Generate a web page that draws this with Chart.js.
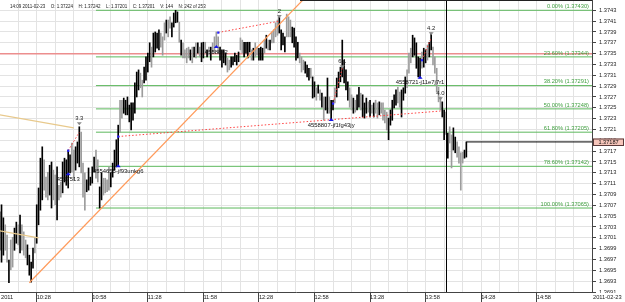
<!DOCTYPE html>
<html>
<head>
<meta charset="utf-8">
<script src="https://cdn.jsdelivr.net/npm/chart.js@4.4.1/dist/chart.umd.min.js"></script>
<style>
html,body{margin:0;padding:0;background:#fff;overflow:hidden;}
canvas{display:block;}
</style>
</head>
<body>
<canvas id="chart" width="625" height="302"></canvas>
<script>
// ---------------- DATA ----------------
const sessionDate = '2011-02-23';
const firstBarTime = '10:08';           // 1-minute bars
const opens = [
1.36987,1.36965,1.36978,1.37034,1.37015,1.36927,1.37006,1.37011,1.36987,1.37000,
1.37034,1.36982,1.37034,1.37021,1.37006,1.36960,1.36941,1.36928,1.36954,1.37011,
1.37000,1.37034,1.37061,1.37080,1.37154,1.37122,1.37131,1.37089,1.37065,1.37135,
1.37126,1.37043,1.37107,1.37113,1.37093,1.37113,1.37107,1.37102,1.37130,1.37185,
1.37172,1.37135,1.37148,1.37141,1.37205,1.37148,1.37130,1.37095,1.37098,1.37107,
1.37111,1.37131,1.37172,1.37154,1.37065,1.37080,1.37120,1.37120,1.37117,1.37141,
1.37104,1.37122,1.37135,1.37141,1.37144,1.37264,1.37264,1.37240,1.37237,1.37237,
1.37224,1.37209,1.37227,1.37240,1.37270,1.37283,1.37314,1.37301,1.37296,1.37301,
1.37316,1.37335,1.37362,1.37344,1.37353,1.37360,1.37357,1.37388,1.37381,1.37407,
1.37388,1.37412,1.37418,1.37381,1.37399,1.37407,1.37408,1.37408,1.37347,1.37370,
1.37357,1.37360,1.37362,1.37338,1.37362,1.37344,1.37370,1.37351,1.37362,1.37335,
1.37342,1.37371,1.37344,1.37362,1.37338,1.37370,1.37381,1.37390,1.37381,1.37338,
1.37325,1.37333,1.37329,1.37342,1.37338,1.37325,1.37329,1.37335,1.37329,1.37335,
1.37379,1.37375,1.37344,1.37351,1.37342,1.37353,1.37357,1.37338,1.37370,1.37362,
1.37338,1.37338,1.37338,1.37375,1.37360,1.37375,1.37357,1.37390,1.37394,1.37407,
1.37412,1.37388,1.37357,1.37366,1.37353,1.37423,1.37418,1.37412,1.37370,1.37362,
1.37338,1.37342,1.37351,1.37344,1.37338,1.37314,1.37307,1.37301,1.37323,1.37268,
1.37270,1.37287,1.37277,1.37283,1.37251,1.37270,1.37246,1.37240,1.37270,1.37227,
1.37246,1.37287,1.37270,1.37287,1.37298,1.37307,1.37296,1.37283,1.37264,1.37287,
1.37274,1.37240,1.37264,1.37246,1.37251,1.37277,1.37233,1.37231,1.37240,1.37261,
1.37233,1.37255,1.37233,1.37264,1.37259,1.37237,1.37259,1.37259,1.37246,1.37242,
1.37191,1.37218,1.37227,1.37250,1.37255,1.37288,1.37279,1.37233,1.37264,1.37277,
1.37320,1.37351,1.37360,1.37344,1.37347,1.37323,1.37307,1.37305,1.37353,1.37325,
1.37333,1.37366,1.37344,1.37357,1.37362,1.37344,1.37323,1.37288,1.37270,1.37233,
1.37191,1.37224,1.37157,1.37215,1.37200,1.37172,1.37167,1.37187,1.37178,1.37167,
1.37168,1.37157,1.37159];
const highs = [
1.37058,1.37071,1.37047,1.37034,1.37015,1.36969,1.37006,1.37011,1.37028,1.37039,
1.37034,1.37052,1.37034,1.37021,1.37006,1.36997,1.36978,1.36965,1.36991,1.37011,
1.37071,1.37102,1.37157,1.37178,1.37154,1.37122,1.37131,1.37144,1.37150,1.37135,
1.37126,1.37141,1.37107,1.37113,1.37150,1.37157,1.37154,1.37172,1.37163,1.37185,
1.37172,1.37178,1.37187,1.37215,1.37205,1.37148,1.37130,1.37117,1.37139,1.37122,
1.37141,1.37159,1.37172,1.37154,1.37104,1.37130,1.37120,1.37120,1.37117,1.37141,
1.37130,1.37148,1.37172,1.37191,1.37218,1.37264,1.37264,1.37268,1.37264,1.37270,
1.37255,1.37259,1.37259,1.37296,1.37316,1.37320,1.37314,1.37301,1.37325,1.37344,
1.37351,1.37370,1.37362,1.37388,1.37390,1.37388,1.37394,1.37388,1.37381,1.37407,
1.37412,1.37412,1.37418,1.37407,1.37425,1.37430,1.37427,1.37408,1.37375,1.37370,
1.37357,1.37360,1.37362,1.37357,1.37362,1.37362,1.37370,1.37370,1.37362,1.37370,
1.37371,1.37371,1.37357,1.37362,1.37362,1.37370,1.37381,1.37390,1.37381,1.37362,
1.37357,1.37357,1.37351,1.37342,1.37338,1.37344,1.37344,1.37351,1.37347,1.37353,
1.37379,1.37375,1.37371,1.37371,1.37371,1.37371,1.37357,1.37360,1.37370,1.37362,
1.37360,1.37362,1.37360,1.37375,1.37384,1.37375,1.37375,1.37390,1.37394,1.37407,
1.37412,1.37418,1.37394,1.37388,1.37381,1.37423,1.37418,1.37412,1.37399,1.37397,
1.37381,1.37371,1.37351,1.37344,1.37338,1.37335,1.37329,1.37323,1.37323,1.37307,
1.37298,1.37287,1.37292,1.37283,1.37277,1.37270,1.37270,1.37305,1.37270,1.37264,
1.37264,1.37287,1.37305,1.37316,1.37325,1.37375,1.37338,1.37320,1.37298,1.37287,
1.37274,1.37268,1.37264,1.37274,1.37288,1.37277,1.37274,1.37259,1.37268,1.37261,
1.37264,1.37255,1.37259,1.37264,1.37259,1.37261,1.37259,1.37259,1.37246,1.37242,
1.37231,1.37246,1.37264,1.37274,1.37283,1.37288,1.37279,1.37283,1.37287,1.37307,
1.37320,1.37351,1.37360,1.37384,1.37379,1.37370,1.37344,1.37342,1.37353,1.37360,
1.37357,1.37366,1.37371,1.37388,1.37362,1.37344,1.37323,1.37288,1.37270,1.37261,
1.37246,1.37242,1.37203,1.37215,1.37200,1.37213,1.37196,1.37187,1.37178,1.37167,
1.37168,1.37172,1.37187];
const lows = [
1.36987,1.36965,1.36978,1.36987,1.36965,1.36927,1.36951,1.36956,1.36987,1.37000,
1.36997,1.36982,1.36987,1.36978,1.36973,1.36960,1.36941,1.36928,1.36954,1.36982,
1.37000,1.37034,1.37061,1.37080,1.37098,1.37085,1.37080,1.37089,1.37065,1.37080,
1.37071,1.37043,1.37080,1.37085,1.37093,1.37113,1.37107,1.37102,1.37130,1.37131,
1.37117,1.37135,1.37148,1.37141,1.37130,1.37085,1.37061,1.37095,1.37098,1.37107,
1.37111,1.37131,1.37120,1.37113,1.37065,1.37080,1.37089,1.37093,1.37095,1.37098,
1.37104,1.37122,1.37135,1.37141,1.37144,1.37205,1.37231,1.37240,1.37237,1.37237,
1.37224,1.37209,1.37227,1.37240,1.37270,1.37283,1.37287,1.37270,1.37296,1.37301,
1.37316,1.37335,1.37325,1.37344,1.37353,1.37360,1.37357,1.37362,1.37347,1.37375,
1.37388,1.37381,1.37397,1.37381,1.37399,1.37407,1.37408,1.37371,1.37347,1.37342,
1.37342,1.37333,1.37342,1.37338,1.37333,1.37344,1.37342,1.37351,1.37344,1.37335,
1.37342,1.37351,1.37344,1.37347,1.37338,1.37351,1.37353,1.37362,1.37351,1.37338,
1.37325,1.37333,1.37329,1.37316,1.37320,1.37325,1.37329,1.37335,1.37329,1.37335,
1.37357,1.37351,1.37344,1.37351,1.37342,1.37353,1.37338,1.37338,1.37344,1.37347,
1.37338,1.37338,1.37338,1.37351,1.37360,1.37357,1.37357,1.37370,1.37370,1.37381,
1.37384,1.37388,1.37357,1.37366,1.37353,1.37381,1.37381,1.37381,1.37370,1.37362,
1.37338,1.37342,1.37333,1.37316,1.37320,1.37314,1.37307,1.37301,1.37305,1.37268,
1.37270,1.37264,1.37277,1.37264,1.37251,1.37227,1.37246,1.37240,1.37240,1.37227,
1.37246,1.37259,1.37270,1.37287,1.37298,1.37307,1.37296,1.37283,1.37264,1.37251,
1.37246,1.37240,1.37242,1.37246,1.37251,1.37246,1.37233,1.37231,1.37240,1.37242,
1.37233,1.37240,1.37233,1.37240,1.37231,1.37237,1.37240,1.37227,1.37222,1.37209,
1.37191,1.37218,1.37227,1.37250,1.37255,1.37259,1.37251,1.37233,1.37264,1.37277,
1.37287,1.37314,1.37333,1.37344,1.37347,1.37323,1.37307,1.37305,1.37323,1.37325,
1.37333,1.37338,1.37344,1.37357,1.37329,1.37314,1.37279,1.37261,1.37246,1.37233,
1.37191,1.37201,1.37157,1.37185,1.37139,1.37172,1.37167,1.37159,1.37148,1.37098,
1.37148,1.37157,1.37159];
const closes = [
1.37058,1.37071,1.37047,1.36987,1.36965,1.36969,1.36951,1.36956,1.37028,1.37039,
1.36997,1.37052,1.36987,1.36978,1.36973,1.36997,1.36978,1.36965,1.36991,1.36982,
1.37071,1.37102,1.37157,1.37178,1.37098,1.37085,1.37080,1.37144,1.37150,1.37080,
1.37071,1.37141,1.37080,1.37085,1.37150,1.37157,1.37154,1.37172,1.37163,1.37131,
1.37117,1.37178,1.37187,1.37215,1.37130,1.37085,1.37061,1.37117,1.37139,1.37122,
1.37141,1.37159,1.37120,1.37113,1.37104,1.37130,1.37089,1.37093,1.37095,1.37098,
1.37130,1.37148,1.37172,1.37191,1.37218,1.37205,1.37231,1.37268,1.37264,1.37270,
1.37255,1.37259,1.37259,1.37296,1.37316,1.37320,1.37287,1.37270,1.37325,1.37344,
1.37351,1.37370,1.37325,1.37388,1.37390,1.37388,1.37394,1.37362,1.37347,1.37375,
1.37412,1.37381,1.37397,1.37407,1.37425,1.37430,1.37427,1.37371,1.37375,1.37342,
1.37342,1.37333,1.37342,1.37357,1.37333,1.37362,1.37342,1.37370,1.37344,1.37370,
1.37371,1.37351,1.37357,1.37347,1.37362,1.37351,1.37353,1.37362,1.37351,1.37362,
1.37357,1.37357,1.37351,1.37316,1.37320,1.37344,1.37344,1.37351,1.37347,1.37353,
1.37357,1.37351,1.37371,1.37371,1.37371,1.37371,1.37338,1.37360,1.37344,1.37347,
1.37360,1.37362,1.37360,1.37351,1.37384,1.37357,1.37375,1.37370,1.37370,1.37381,
1.37384,1.37418,1.37394,1.37388,1.37381,1.37381,1.37381,1.37381,1.37399,1.37397,
1.37381,1.37371,1.37333,1.37316,1.37320,1.37335,1.37329,1.37323,1.37305,1.37307,
1.37298,1.37264,1.37292,1.37264,1.37277,1.37227,1.37270,1.37305,1.37240,1.37264,
1.37264,1.37259,1.37305,1.37316,1.37325,1.37375,1.37338,1.37320,1.37298,1.37251,
1.37246,1.37268,1.37242,1.37274,1.37288,1.37246,1.37274,1.37259,1.37268,1.37242,
1.37264,1.37240,1.37259,1.37240,1.37231,1.37261,1.37240,1.37227,1.37222,1.37209,
1.37231,1.37246,1.37264,1.37274,1.37283,1.37259,1.37251,1.37283,1.37287,1.37307,
1.37287,1.37314,1.37333,1.37384,1.37379,1.37370,1.37344,1.37342,1.37323,1.37360,
1.37357,1.37338,1.37371,1.37388,1.37329,1.37314,1.37279,1.37261,1.37246,1.37261,
1.37224,1.37201,1.37203,1.37185,1.37139,1.37213,1.37196,1.37159,1.37148,1.37098,
1.37148,1.37172,1.37187];
const crossIndex = 241;        // bar under the cursor (N: 242)
const crossVolume = 144;

const priceTicks = [1.3691,1.3693,1.3695,1.3697,1.3699,1.3701,1.3703,1.3705,1.3707,
  1.3709,1.3711,1.3713,1.3715,1.3717,1.3719,1.3721,1.3723,1.3725,1.3727,1.3729,
  1.3731,1.3733,1.3735,1.3737,1.3739,1.3741,1.3743];
const timeTicks = ['10:28','10:58','11:28','11:58','12:28','12:58','13:28','13:58','14:28','14:58'];

const fibPercents = [0, 23.6, 38.2, 50, 61.8, 78.6, 100];
const fibPrices = [1.37430, 1.37344, 1.37291, 1.37248, 1.37205, 1.37142, 1.37065];
const fibStart = '11:00';
const resistancePrice = 1.37350;

const trendStart = [['10:24', 1.36927], ['10:08', 1.37237], ['10:08', 1.37023]];
const trendEnd   = [['12:52', 1.37450], ['10:48', 1.37213], ['10:29', 1.37010]];

const linkStart = [['10:45',1.37171],['11:12',1.37197],['12:06',1.37389],['13:08',1.37258],['13:56',1.37338]];
const linkEnd   = [['10:51',1.37205],['14:06',1.37244],['12:39',1.37410],['13:13',1.37323],['14:01',1.37379]];

const signalTimes  = ['10:45','11:12','12:05','13:07','13:55'];
const signalPrices = [1.37131,1.37146,1.37366,1.37231,1.37309];
const signalIds    = ['4557513','4554655-jf93unkg6','4558842','4558807-jf1fg43jy','4558721-j11e7j7r1'];

const waveTimes  = ['10:51','12:39','13:13','14:01','14:06'];
const wavePrices = [1.37218,1.37416,1.37323,1.37384,1.37264];
const waveLabels = ['3.3','2','6.1','4.2','4.0'];

// ---------------- HELPERS ----------------
const FAM = '"Liberation Sans", Arial, sans-serif';
Chart.defaults.font.family = FAM;
const toMin = t => { const [h, m] = t.split(':').map(Number); return (h - 10) * 60 + m; };
const fmtTime = m => { m = Math.round(m); const h = 10 + Math.floor(m / 60), mm = m % 60;
  return String(h).padStart(2, '0') + ':' + String(mm).padStart(2, '0'); };
const startMin = toMin(firstBarTime);
const barTimes = highs.map((_, i) => startMin + i);
const lastIdx = highs.length - 1;
const X_MIN = startMin + 0.18, X_MAX = startMin + 319.85, FAR = 1000;
const gridMinutes = [];
for (let m = startMin + 10; m < X_MAX; m += 10) gridMinutes.push(m);

const barColors = closes.map((c, i) => c >= opens[i] ? '#000000' : '#9c9c9c');

const lineDs = (pts, color, width, dash, order) => ({
  type: 'line', data: pts.map(p => ({x: p[0], y: p[1]})),
  borderColor: color, borderWidth: width, borderDash: dash || [],
  pointRadius: 0, tension: 0, fill: false, order: order
});

const datasets = [];
datasets.push({
  type: 'bar', label: 'EURUSD 1m',
  data: barTimes.map((t, i) => ({x: t, y: [lows[i], highs[i]]})),
  backgroundColor: barColors, borderWidth: 0, barThickness: 1, grouped: false, order: 1
});
fibPrices.forEach(p => datasets.push(lineDs([[toMin(fibStart), p], [FAR, p]], '#5cb85c', 1, null, 3)));
datasets.push(lineDs([[-FAR, resistancePrice], [FAR, resistancePrice]], '#ec8e8e', 1.5, null, 3));
const trendColors = ['#ff9a5a', '#e8c98c', '#e8c98c'];
trendStart.forEach((s, k) => datasets.push(lineDs([[toMin(s[0]), s[1]], [toMin(trendEnd[k][0]), trendEnd[k][1]]], trendColors[k], 1.2, null, 0)));
linkStart.forEach((s, k) => datasets.push(lineDs([[toMin(s[0]), s[1]], [toMin(linkEnd[k][0]), linkEnd[k][1]]], '#ff4040', 1, [1.5, 2], 0)));
datasets.push(lineDs([[barTimes[lastIdx], closes[lastIdx]], [FAR, closes[lastIdx]]], '#000000', 1, null, 0));

const overlay = {
  id: 'overlay',
  afterDatasetsDraw(chart) {
    const {ctx, chartArea: a, scales: {x, y}} = chart;
    ctx.save();
    ctx.beginPath(); ctx.rect(a.left, a.top, a.right - a.left, a.bottom - a.top); ctx.clip();
    // crosshair
    const cx = Math.round(x.getPixelForValue(barTimes[crossIndex])) + 0.5;
    ctx.strokeStyle = '#000'; ctx.lineWidth = 1;
    ctx.beginPath(); ctx.moveTo(cx, a.top); ctx.lineTo(cx, a.bottom); ctx.stroke();
    // blue squares at link starts
    ctx.fillStyle = '#2424ff';
    linkStart.forEach(s => {
      const px = x.getPixelForValue(toMin(s[0])), py = y.getPixelForValue(s[1]);
      ctx.fillRect(px - 1, py - 1, 2.2, 2.2);
    });
    // signal triangles + ids
    ctx.font = '5.9px ' + FAM; ctx.textAlign = 'center'; ctx.textBaseline = 'middle';
    signalTimes.forEach((t, k) => {
      const px = x.getPixelForValue(toMin(t)), py = y.getPixelForValue(signalPrices[k]);
      ctx.fillStyle = '#1515e8';
      ctx.beginPath(); ctx.moveTo(px, py); ctx.lineTo(px + 2.6, py + 3); ctx.lineTo(px - 2.6, py + 3); ctx.closePath(); ctx.fill();
      ctx.fillStyle = '#111';
      ctx.fillText(signalIds[k], px, py + 7);
    });
    // wave labels with down markers
    waveTimes.forEach((t, k) => {
      const px = x.getPixelForValue(toMin(t)), py = y.getPixelForValue(wavePrices[k]);
      ctx.fillStyle = '#8a8a8a';
      ctx.beginPath(); ctx.moveTo(px, py); ctx.lineTo(px + 2.5, py - 3); ctx.lineTo(px - 2.5, py - 3); ctx.closePath(); ctx.fill();
      ctx.fillStyle = '#222';
      ctx.fillText(waveLabels[k], px, py - 6.5);
    });
    // fib labels
    ctx.font = '5.7px ' + FAM; ctx.textAlign = 'right'; ctx.textBaseline = 'bottom';
    ctx.fillStyle = '#3f9f3f';
    fibPrices.forEach((p, k) => {
      const py = y.getPixelForValue(p);
      ctx.fillText(fibPercents[k].toFixed(2) + '% (' + p.toFixed(5) + ')', a.right - 3, py - 1);
    });
    ctx.restore();
  },
  afterDraw(chart) {
    const {ctx, chartArea: a, scales: {x, y}} = chart;
    ctx.save();
    // header info line
    const ci = crossIndex;
    const parts = [fmtTime(barTimes[ci]) + ' ' + sessionDate, 'O: ' + opens[ci].toFixed(5), 'H: ' + highs[ci].toFixed(5),
      'L: ' + lows[ci].toFixed(5), 'C: ' + closes[ci].toFixed(5), 'V: ' + crossVolume, 'N: ' + (ci + 1) + ' of ' + highs.length];
    ctx.font = '4.5px ' + FAM; ctx.fillStyle = '#222'; ctx.textAlign = 'left'; ctx.textBaseline = 'middle';
    let hx = 10;
    parts.forEach(s => { ctx.fillText(s, hx, 6.5); hx += ctx.measureText(s).width + 5.5; });
    // top strip line
    ctx.strokeStyle = '#222'; ctx.lineWidth = 1;
    ctx.beginPath(); ctx.moveTo(300, 0.5); ctx.lineTo(a.right, 0.5); ctx.stroke();
    // current price box
    const lc = closes[lastIdx], py = Math.round(y.getPixelForValue(lc));
    ctx.fillStyle = '#f6c5ba'; ctx.strokeStyle = '#5a3a3a';
    ctx.fillRect(a.right + 1, py - 3.5, 31, 7); ctx.strokeRect(a.right + 1.5, py - 3, 30, 6.5);
    ctx.fillStyle = '#111'; ctx.font = '5.6px ' + FAM; ctx.textAlign = 'center'; ctx.textBaseline = 'middle';
    ctx.fillText(lc.toFixed(5), a.right + 16.5, py + 0.3);
    // date labels on the time axis
    ctx.fillStyle = '#fff'; ctx.fillRect(a.right + 1, a.bottom + 1, 33, 9);
    ctx.fillStyle = '#222'; ctx.font = '5.7px ' + FAM; ctx.textAlign = 'left';
    ctx.fillText(sessionDate.slice(0, 4), 1, a.bottom + 5.5);
    ctx.fillText(sessionDate, a.right + 1, a.bottom + 5.5);
    ctx.restore();
  }
};

const noPad = s => { s.paddingTop = 0; s.paddingBottom = 0; s.paddingLeft = 0; s.paddingRight = 0; };

new Chart(document.getElementById('chart'), {
  type: 'bar',
  data: {datasets},
  options: {
    responsive: false, devicePixelRatio: 1, animation: false, events: [],
    layout: {padding: 0},
    plugins: {legend: {display: false}, tooltip: {enabled: false}},
    scales: {
      x: {
        type: 'linear', min: X_MIN, max: X_MAX, offset: false,
        grid: {offset: false, color: '#e3e3e3', lineWidth: 1, tickLength: 10,
          tickColor: c => (c.tick && timeTicks.includes(fmtTime(c.tick.value))) ? '#444' : 'rgba(0,0,0,0)'},
        border: {color: '#444', width: 1},
        ticks: {autoSkip: false, maxRotation: 0, minRotation: 0, align: 'start', padding: -8,
          font: {size: 5.7}, color: '#222',
          callback: v => timeTicks.includes(fmtTime(v)) ? fmtTime(v) : ''},
        afterBuildTicks: s => { s.ticks = gridMinutes.map(v => ({value: v})); },
        afterFit: s => { s.height = 10; noPad(s); }
      },
      y: {
        type: 'linear', position: 'right', min: 1.3691, max: 1.37449,
        grid: {color: '#e3e3e3', lineWidth: 1, tickLength: 4, tickColor: '#444'},
        border: {color: '#444', width: 1},
        ticks: {autoSkip: false, padding: 3, font: {size: 5.7}, color: '#222',
          callback: v => v.toFixed(4)},
        afterBuildTicks: s => { s.ticks = priceTicks.map(v => ({value: v})); },
        afterFit: s => { s.width = 33; noPad(s); }
      }
    }
  },
  plugins: [overlay]
});
</script>
</body>
</html>
